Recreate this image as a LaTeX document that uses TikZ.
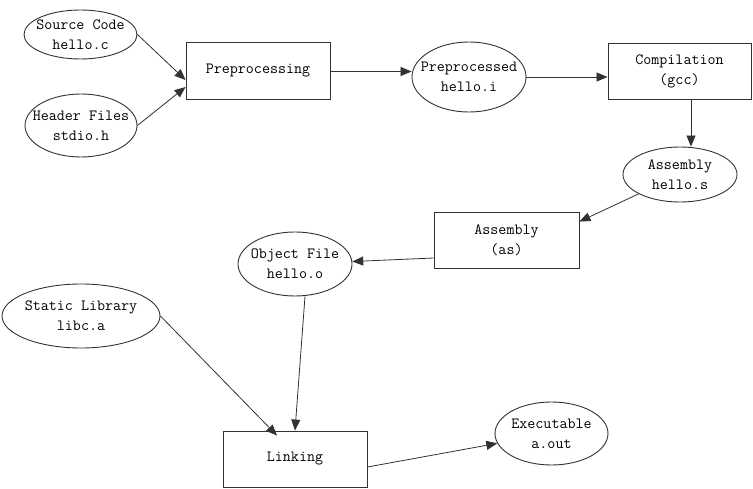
\documentclass[tikz,border=0pt]{standalone}
\usepackage{fontspec}
\usetikzlibrary{shapes.geometric,arrows.meta}
\definecolor{strokegray}{RGB}{50,50,50}
\begin{document}
\begin{tikzpicture}[x=1pt,y=-1pt,
  every node/.style={font=\ttfamily\fontsize{15.6}{20}\selectfont, align=center, text=black},
  filenode/.style={ellipse, draw=strokegray, line width=0.9pt, inner xsep=-30pt, inner ysep=-14pt},
  stepbox/.style={rectangle, draw=strokegray, line width=0.9pt, inner sep=0pt,
                  minimum width=144pt, minimum height=56pt},
  flow/.style={draw=strokegray, line width=0.8pt, -{Triangle[length=11pt,width=9pt]}}]
\useasboundingbox (0,0) rectangle (753,489);

% inputs and intermediate files
\node[filenode, minimum width=113pt, minimum height=49pt] (src) at (80.5,34.5) {Source Code\\hello.c};
\node[filenode, minimum width=112pt, minimum height=63pt] (hdr) at (81,125.5) {Header Files\\stdio.h};
\node[filenode, minimum width=114pt, minimum height=70pt] (ppi) at (469,77) {Preprocessed\\hello.i};
\node[filenode, minimum width=114pt, minimum height=55pt] (asm) at (680,174.5) {Assembly\\hello.s};
\node[filenode, minimum width=114pt, minimum height=64pt] (obj) at (295,264) {Object File\\hello.o};
\node[filenode, minimum width=158pt, minimum height=64pt] (lib) at (81,316) {Static Library\\libc.a};
\node[filenode, minimum width=113pt, minimum height=63pt] (exe) at (551.5,433.5) {Executable\\a.out};

% processing steps
\node[stepbox, minimum height=57pt] (pre) at (258,70.5) {Preprocessing};
\node[stepbox, minimum width=143pt] (comp) at (679.5,71) {Compilation\\(gcc)};
\node[stepbox, minimum width=145pt] (asmbox) at (506.5,240) {Assembly\\(as)};
\node[stepbox] (link) at (295,459) {Linking};

% data flow
\draw[flow] (src.east) -- ([yshift=-9.5pt]pre.west);
\draw[flow] (hdr.east) -- ([yshift=-16.5pt]pre.west);
\draw[flow] ([yshift=-1pt]pre.east) -- ([yshift=-1pt]pre.east -| ppi.west);
\draw[flow] (ppi.east) -- (ppi.east -| comp.west);
\draw[flow] ([xshift=11.5pt]comp.south) -- ([xshift=11.5pt]comp.south |- asm.north);
\draw[flow] (asm) -- ([yshift=-10pt]asmbox.north east);
\draw[flow] ([yshift=-18pt]asmbox.west) -- (obj);
\draw[flow] (lib.east) -- ([xshift=-18pt,yshift=-5pt]link.north);
\draw[flow] ([xshift=10pt]obj.south) -- (link.north);
\draw[flow] ([yshift=-8pt]link.east) -- (exe);
\end{tikzpicture}
\end{document}
